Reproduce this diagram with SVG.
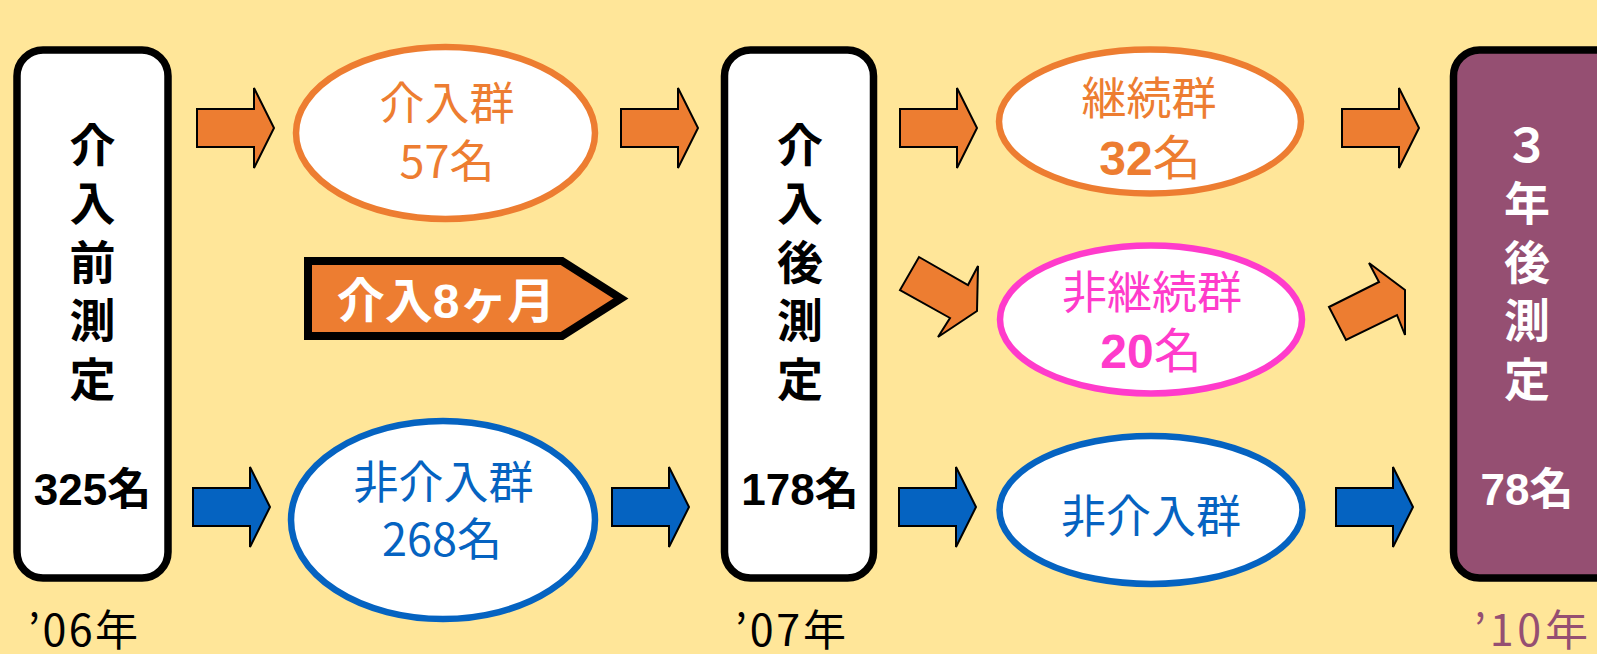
<svg xmlns="http://www.w3.org/2000/svg" xmlns:xlink="http://www.w3.org/1999/xlink" width="1597" height="654" viewBox="0 0 1597 654">
<defs>
<style>
.box{stroke:#000;stroke-width:7.5}
.white{fill:#fff}
.purple{fill:#954F72}
.ell{fill:#fff;stroke-width:6.5}
.arrO{fill:#ED7D31;stroke:#000;stroke-width:2}
.arrB{fill:#0563C1;stroke:#000;stroke-width:2}
.vt{font-family:"Noto Sans CJK JP",sans-serif;font-weight:bold;font-size:46px;text-anchor:middle}
.num{font-family:"Liberation Sans","Noto Sans CJK JP",sans-serif;font-weight:bold;font-size:44px;text-anchor:middle}
.lbl{font-family:"Noto Sans CJK JP",sans-serif;font-size:45px;text-anchor:middle}
.lblb{font-family:"Liberation Sans","Noto Sans CJK JP",sans-serif;font-weight:bold;font-size:48px}
.date{font-family:"Noto Sans CJK JP",sans-serif;font-size:43px}
</style>
<path id="arrowShape" d="M0,-19 H57 V-40 L77,0 L57,40 V19 H0 Z"/>
</defs>
<rect x="0" y="0" width="1597" height="654" fill="#FFE699"/>

<g id="connectors">
<use xlink:href="#arrowShape" class="arrO" transform="translate(197,128)"/>
<use xlink:href="#arrowShape" class="arrO" transform="translate(621,128)"/>
<use xlink:href="#arrowShape" class="arrO" transform="translate(900,128)"/>
<use xlink:href="#arrowShape" class="arrO" transform="translate(1342,128)"/>
<use xlink:href="#arrowShape" class="arrB" transform="translate(193,507)"/>
<use xlink:href="#arrowShape" class="arrB" transform="translate(612,507)"/>
<use xlink:href="#arrowShape" class="arrB" transform="translate(899,507)"/>
<use xlink:href="#arrowShape" class="arrB" transform="translate(1336,507)"/>
<polygon class="arrO" points="919,257 968,285 978,266 977,311 938,337 950,318 900,290"/>
<polygon class="arrO" points="1329,307 1379,282 1369,263 1405,290 1405,335 1397,315 1346,340"/>
</g>

<g id="pre">
<rect class="box white" x="17" y="50" width="151" height="528" rx="26"/>
<text class="vt"><tspan x="92.5" y="162">介</tspan><tspan x="92.5" y="220">入</tspan><tspan x="92.5" y="279">前</tspan><tspan x="92.5" y="337">測</tspan><tspan x="92.5" y="396">定</tspan></text>
<text class="num" x="92.5" y="505">325名</text>
</g>

<g id="post">
<rect class="box white" x="724.5" y="50" width="149" height="528" rx="26"/>
<text class="vt"><tspan x="800" y="162">介</tspan><tspan x="800" y="220">入</tspan><tspan x="800" y="279">後</tspan><tspan x="800" y="337">測</tspan><tspan x="800" y="396">定</tspan></text>
<text class="num" x="800" y="505">178名</text>
</g>

<g id="after3">
<rect class="box purple" x="1453.5" y="50" width="170" height="528" rx="26"/>
<text class="vt" fill="#fff"><tspan x="1527" y="162">３</tspan><tspan x="1527" y="220">年</tspan><tspan x="1527" y="279">後</tspan><tspan x="1527" y="337">測</tspan><tspan x="1527" y="396">定</tspan></text>
<text class="num" fill="#fff" x="1527" y="505">78名</text>
</g>

<g id="interv">
<ellipse class="ell" stroke="#ED7D31" cx="445.5" cy="133" rx="149.5" ry="86"/>
<text class="lbl" fill="#ED7D31" x="447" y="120">介入群</text>
<text class="lbl" fill="#ED7D31" x="447" y="178">57名</text>
</g>

<g id="noninterv">
<ellipse class="ell" stroke="#0563C1" cx="443" cy="520" rx="152" ry="99"/>
<text class="lbl" fill="#0563C1" x="443.5" y="499">非介入群</text>
<text class="lbl" fill="#0563C1" x="442" y="556">268名</text>
</g>

<g id="period">
<polygon points="308,261 562,261 621,298.5 562,336 308,336" fill="#ED7D31" stroke="#000" stroke-width="8"/>
<text class="lblb" fill="#fff" x="446" y="318" text-anchor="middle">介入8ヶ月</text>
</g>

<g id="continue">
<ellipse class="ell" stroke="#ED7D31" cx="1150" cy="121.5" rx="151" ry="72"/>
<text class="lbl" fill="#ED7D31" x="1149" y="115">継続群</text>
<text class="lblb" fill="#ED7D31" x="1150" y="175" text-anchor="middle">32<tspan font-weight="normal" font-family="Noto Sans CJK JP, sans-serif">名</tspan></text>
</g>

<g id="discontinue">
<ellipse class="ell" stroke="#FF3BCB" cx="1151" cy="319.5" rx="151" ry="74"/>
<text class="lbl" fill="#FF3BCB" x="1152" y="309">非継続群</text>
<text class="lblb" fill="#FF3BCB" x="1151" y="368" text-anchor="middle">20<tspan font-weight="normal" font-family="Noto Sans CJK JP, sans-serif">名</tspan></text>
</g>

<g id="noninterv2">
<ellipse class="ell" stroke="#0563C1" cx="1151" cy="510" rx="151.5" ry="74"/>
<text class="lbl" fill="#0563C1" x="1151" y="533">非介入群</text>
</g>

<g id="dates">
<text class="date" fill="#000" x="28" y="646" textLength="110" lengthAdjust="spacing">’06年</text>
<text class="date" fill="#000" x="735" y="646" textLength="111" lengthAdjust="spacing">’07年</text>
<text class="date" fill="#954F72" x="1474" y="646" textLength="114" lengthAdjust="spacing">’10年</text>
</g>
</svg>
